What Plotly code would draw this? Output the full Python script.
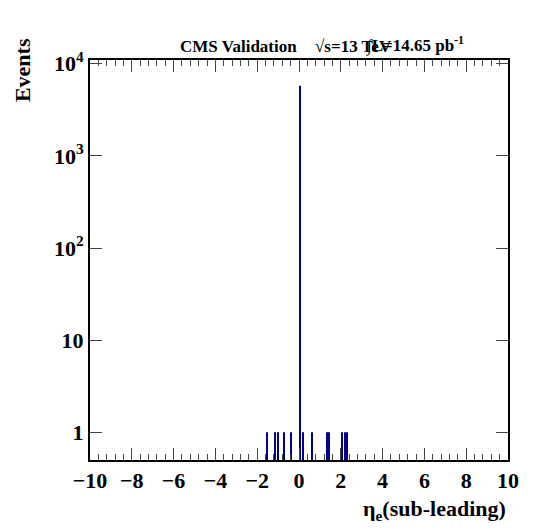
import plotly.graph_objects as go

eta = [-1.52, -1.16, -1.0, -0.73, -0.37, 0.05, 0.19, 0.61, 1.33, 1.45, 2.05, 2.19, 2.3]
events = [1, 1, 1, 1, 1, 5750, 1, 1, 1, 1, 1, 1, 1]

fig = go.Figure(go.Bar(x=eta, y=[v - 0.5 for v in events], base=0.5, width=0.05,
                       marker_color="#00008b", marker_line_width=0))

tf = dict(family="Liberation Serif", size=22, color="black", weight="bold")
af = dict(family="Liberation Serif", size=17, color="black")
fig.update_layout(
    width=556, height=532, plot_bgcolor="white", paper_bgcolor="white",
    margin=dict(l=82, r=56, t=52, b=80, autoexpand=False), showlegend=False,
    xaxis=dict(range=[-10, 10], tickvals=list(range(-10, 11, 2)), ticks="inside",
               ticklen=12, minor=dict(ticks="inside", ticklen=6, dtick=0.4),
               showline=True, linewidth=2, linecolor="black", mirror="allticks",
               showgrid=False, zeroline=False, tickfont=tf, automargin=False),
    yaxis=dict(type="log", range=[-0.3, 4.04], tickvals=[1, 10, 100, 1000, 10000],
               ticktext=["1", "10", "10<sup>2</sup>", "10<sup>3</sup>", "10<sup>4</sup>"],
               ticks="inside", ticklen=12, showline=True, linewidth=2, linecolor="black",
               mirror="allticks", showgrid=False, zeroline=False, tickfont=tf,
               automargin=False),
    annotations=[
        dict(text="<b>CMS Validation</b>", x=0.21, y=1.005, xref="paper", yref="paper",
             yanchor="bottom", showarrow=False, font=af),
        dict(text="<b>√s=13 TeV</b>", x=0.63, y=1.005, xref="paper", yref="paper",
             yanchor="bottom", showarrow=False, font=af),
        dict(text="<b>∫L=14.65 pb<sup>-1</sup></b>", x=0.9, y=1.005, xref="paper", yref="paper",
             yanchor="bottom", showarrow=False, font=af),
        dict(text="<b>Events</b>", x=-0.16, y=1.06, xref="paper", yref="paper", textangle=-90,
             xanchor="center", yanchor="top", showarrow=False,
             font=dict(family="Liberation Serif", size=22, color="black")),
        dict(text="<b>η<sub>e</sub>(sub-leading)</b>", x=1.0, y=-0.085, xref="paper", yref="paper",
             xanchor="right", yanchor="top", showarrow=False,
             font=dict(family="Liberation Serif", size=22, color="black")),
    ],
)
fig.write_html("out.html")
